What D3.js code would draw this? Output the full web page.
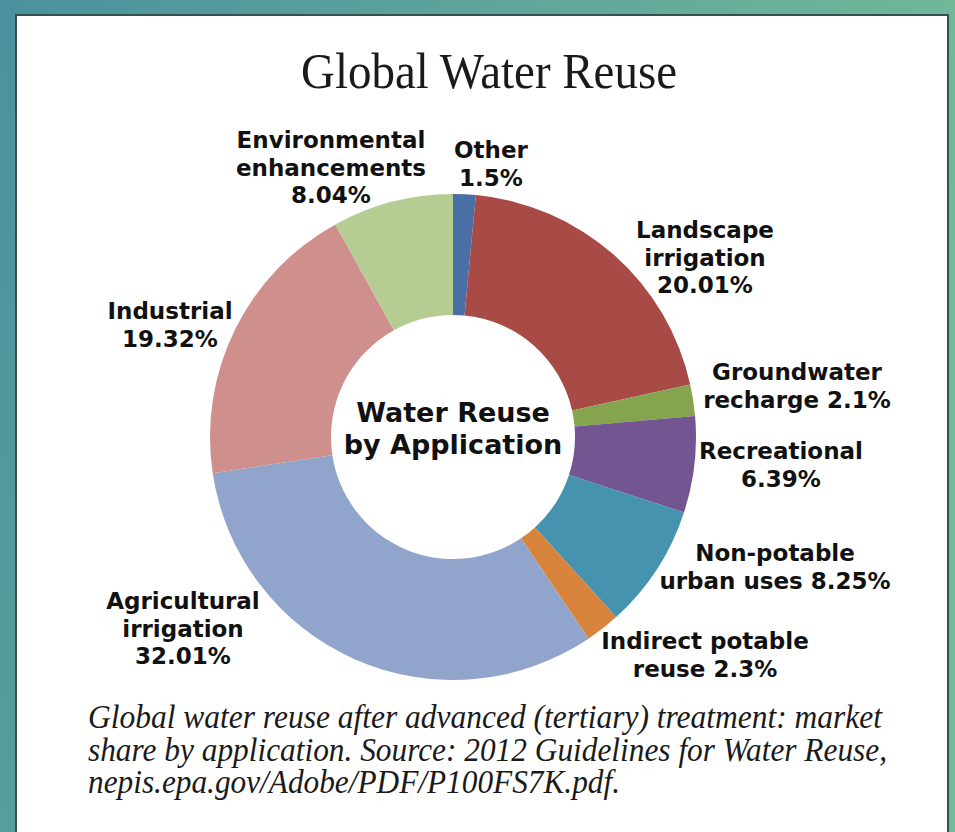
<!DOCTYPE html>
<html>
<head>
<meta charset="utf-8">
<script src="https://cdn.jsdelivr.net/npm/d3@7"></script>
<style>
  html, body { margin: 0; padding: 0; }
  body { width: 955px; height: 832px; overflow: hidden; }
</style>
</head>
<body>
<div id="chart"></div>
<script>
// slices, clockwise from 12 o'clock
const categories = ["Other", "Landscape irrigation", "Groundwater recharge", "Recreational",
    "Non-potable urban uses", "Indirect potable reuse", "Agricultural irrigation",
    "Industrial", "Environmental enhancements"];
const shares = [1.5, 20.01, 2.1, 6.39, 8.25, 2.3, 32.01, 19.32, 8.04];
const shareLabels = ["1.5%", "20.01%", "2.1%", "6.39%", "8.25%", "2.3%", "32.01%", "19.32%", "8.04%"];
// how the label text is broken into lines
const labelLines = [
    ["Other"], ["Landscape", "irrigation"], ["Groundwater", "recharge"], ["Recreational"],
    ["Non-potable", "urban uses"], ["Indirect potable", "reuse"], ["Agricultural", "irrigation"],
    ["Industrial"], ["Environmental", "enhancements"]
];
const shareInline = [false, false, true, false, true, true, false, false, false];
const colors = ["#4a6ea6", "#a84a45", "#84a54e", "#735591", "#4593ae", "#d9843c",
    "#90a4cc", "#cf8f8d", "#b5cd93"];

const W = 955, H = 832;
const cx = 453, cy = 437, rOuter = 243, rInner = 122;
const lineH = 27.5;

// label anchors: [centre x, first baseline]
const labelPos = [
    [491, 158], [705, 238], [797, 380], [781, 459],
    [775, 561], [705, 649], [183, 609], [170, 319], [331, 148]
];

const svg = d3.select("#chart").append("svg")
    .attr("width", W)
    .attr("height", H);

let defs = svg.append("defs");
let grad = defs.append("linearGradient")
    .attr("id", "bg")
    .attr("x1", "0").attr("y1", "0")
    .attr("x2", "1").attr("y2", "0.3");
grad.append("stop").attr("offset", "0").attr("stop-color", "#4b919e");
grad.append("stop").attr("offset", "1").attr("stop-color", "#74ba98");

svg.append("rect")
    .attr("width", W).attr("height", H)
    .attr("fill", "url(#bg)");

// white panel
svg.append("rect")
    .attr("x", 16).attr("y", 15)
    .attr("width", 932).attr("height", H)
    .attr("fill", "#fff")
    .attr("stroke", "#34504f")
    .attr("stroke-width", 2);

svg.append("text")
    .attr("x", 489).attr("y", 88)
    .attr("text-anchor", "middle")
    .attr("font-family", "Liberation Serif, Times New Roman, serif")
    .attr("font-size", 50)
    .attr("textLength", 376)
    .attr("lengthAdjust", "spacingAndGlyphs")
    .attr("fill", "#1a1a1a")
    .text("Global Water Reuse");

let pie = d3.pie()
    .sort(null)
    .value(function(d) { return d; });

let arc = d3.arc()
    .innerRadius(rInner)
    .outerRadius(rOuter);

let g = svg.append("g")
    .attr("transform", "translate(" + cx + "," + cy + ")");

g.selectAll("path")
    .data(pie(shares))
    .enter()
    .append("path")
    .attr("d", arc)
    .attr("fill", function(d, i) { return colors[i]; });

// centre caption
g.append("text")
    .attr("text-anchor", "middle")
    .attr("font-family", "DejaVu Sans, Verdana, sans-serif")
    .attr("font-weight", "bold")
    .attr("font-size", 27)
    .attr("fill", "#111")
    .selectAll("tspan")
    .data(["Water Reuse", "by Application"])
    .enter()
    .append("tspan")
    .attr("x", 0)
    .attr("y", function(d, i) { return -15 + i * 32; })
    .text(function(d) { return d; });

// slice labels
categories.forEach(function(name, i) {
    let lines = labelLines[i].slice();
    if (shareInline[i]) {
        lines[lines.length - 1] += " " + shareLabels[i];
    } else {
        lines.push(shareLabels[i]);
    }
    let t = svg.append("text")
        .attr("text-anchor", "middle")
        .attr("font-family", "DejaVu Sans, Verdana, sans-serif")
        .attr("font-weight", "bold")
        .attr("font-size", 23)
        .attr("fill", "#111");
    t.append("title").text(name + ": " + shareLabels[i]);
    t.selectAll("tspan")
        .data(lines)
        .enter()
        .append("tspan")
        .attr("x", labelPos[i][0])
        .attr("y", function(d, j) { return labelPos[i][1] + j * lineH; })
        .text(function(d) { return d; });
});

// source note
const note = [
    ["Global water reuse after advanced (tertiary) treatment: market", 794],
    ["share by application. Source: 2012 Guidelines for Water Reuse,", 799],
    ["nepis.epa.gov/Adobe/PDF/P100FS7K.pdf.", 532]
];
note.forEach(function(n, i) {
    svg.append("text")
        .attr("x", 88)
        .attr("y", 728 + i * 32.5)
        .attr("font-family", "Liberation Serif, Times New Roman, serif")
        .attr("font-style", "italic")
        .attr("font-size", 33)
        .attr("textLength", n[1])
        .attr("lengthAdjust", "spacingAndGlyphs")
        .attr("fill", "#1a1a1a")
        .text(n[0]);
});
</script>
</body>
</html>
